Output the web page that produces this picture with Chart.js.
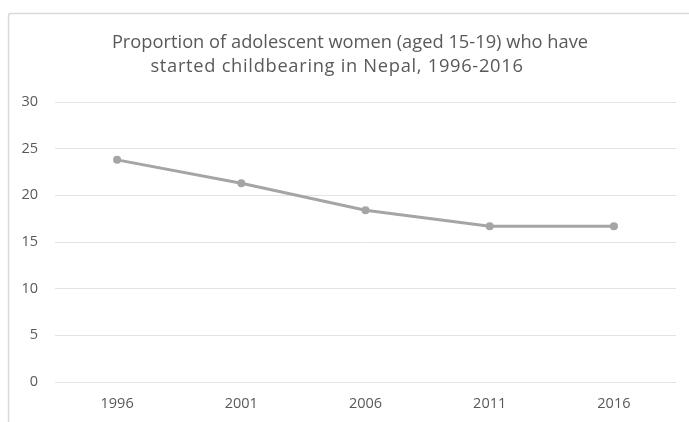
<!DOCTYPE html>
<html>
<head>
<meta charset="utf-8">
<script src="https://cdn.jsdelivr.net/npm/chart.js@4/dist/chart.umd.min.js"></script>
<style>
  html, body { margin: 0; padding: 0; background: #fff; overflow: hidden; }
  #wrap { width: 689px; height: 422px; position: relative; }
</style>
</head>
<body>
<div id="wrap"><canvas id="chart"></canvas></div>
<script>
// survey years and share of women 15-19 who have begun childbearing (%)
const years = ['1996', '2001', '2006', '2011', '2016'];
const shareStarted = [23.8, 21.3, 18.4, 16.7, 16.7];
const titleLines = [
    'Proportion of adolescent women (aged 15-19) who have',
    'started childbearing in Nepal, 1996-2016'
];
const yTicks = [0, 5, 10, 15, 20, 25, 30];

const TEXT = '#595959';
const GRID = '#e3e3e3';
const LINE = '#a5a5a5';

// heading lines: centre x, baseline y, extra letter spacing
const titleLayout = [
    { x: 350, y: 48, spacing: '0px' },
    { x: 337, y: 72, spacing: '0.7px' }
];

// light frame on top/left plus the two-line heading
const framePlugin = {
    id: 'frame',
    beforeDraw(chart) {
        const c = chart.ctx;
        c.save();
        c.fillStyle = '#fff';
        c.fillRect(0, 0, chart.width, chart.height);
        c.strokeStyle = '#d9d9d9';
        c.lineWidth = 1.5;
        c.beginPath();
        c.moveTo(8.5, chart.height);
        c.lineTo(8.5, 16);
        c.quadraticCurveTo(8.5, 13.5, 11, 13.5);
        c.lineTo(chart.width, 13.5);
        c.stroke();

        c.fillStyle = TEXT;
        c.font = '18.3px "Open Sans"';
        c.textAlign = 'center';
        c.textBaseline = 'alphabetic';
        titleLines.forEach((t, i) => {
            const pos = titleLayout[i];
            c.letterSpacing = pos.spacing;
            c.fillText(t, pos.x, pos.y);
        });
        c.restore();
    }
};

new Chart(document.getElementById('chart'), {
    type: 'line',
    data: {
        labels: years,
        datasets: [{
            data: shareStarted,
            borderColor: LINE,
            backgroundColor: LINE,
            borderWidth: 3,
            pointRadius: 4,
            pointBackgroundColor: LINE,
            pointBorderWidth: 0,
            tension: 0
        }]
    },
    options: {
        responsive: true,
        maintainAspectRatio: false,
        animation: false,
        layout: { padding: { top: 102, left: 0, right: 13, bottom: 10 } },
        plugins: {
            legend: { display: false },
            tooltip: { enabled: false },
            title: { display: false }
        },
        scales: {
            x: {
                offset: true,
                grid: { display: false, drawTicks: false },
                border: { display: false },
                ticks: {
                    color: TEXT,
                    padding: 13,
                    font: { family: 'Open Sans', size: 14.5 }
                },
                afterFit(scale) { scale.height = 30; }
            },
            y: {
                min: yTicks[0],
                max: yTicks[yTicks.length - 1],
                afterBuildTicks(scale) {
                    scale.ticks = yTicks.map(v => ({ value: v }));
                },
                grid: { color: GRID, lineWidth: 1, drawTicks: false },
                border: { display: false },
                ticks: {
                    color: TEXT,
                    padding: 17,
                    font: { family: 'Open Sans', size: 14.5 }
                },
                afterFit(scale) { scale.width = 55; }
            }
        }
    },
    plugins: [framePlugin]
});
</script>
</body>
</html>
